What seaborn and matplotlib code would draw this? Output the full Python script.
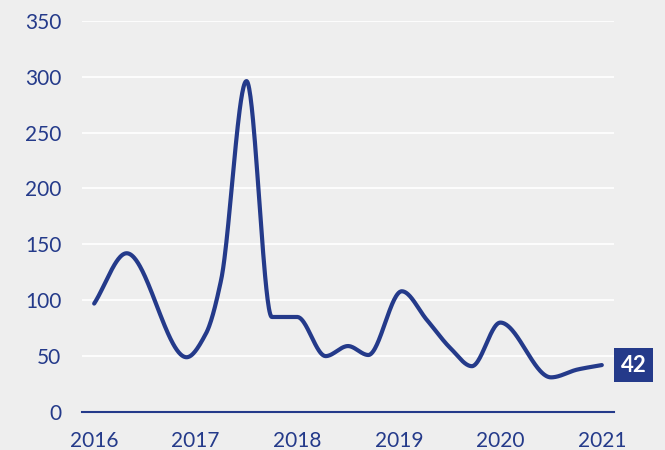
import matplotlib
matplotlib.use("Agg")
import matplotlib.pyplot as plt
import numpy as np
import pandas as pd
import seaborn as sns

# values (year position, value)
years = [2016.0, 2016.32, 2016.91, 2017.1, 2017.25, 2017.5, 2017.75, 2018.0,
         2018.28, 2018.5, 2018.7, 2019.03, 2019.28, 2019.51, 2019.72, 2020.0,
         2020.5, 2020.76, 2021.0]
values = [97, 142, 49, 70, 118, 296, 85, 85,
          50, 59, 51, 108, 82, 57, 41, 80,
          31, 38, 42]
tick_years = [2016, 2017, 2018, 2019, 2020, 2021]
y_ticks = [0, 50, 100, 150, 200, 250, 300, 350]
last_label = "42"

navy = "#243a8a"
bg = "#eeeeee"


def monotone_curve(x, y, n=800):
    # monotone cubic (Fritsch-Carlson) so the line looks like the smooth original
    x = np.asarray(x, float)
    y = np.asarray(y, float)
    h = np.diff(x)
    d = np.diff(y) / h
    m = np.zeros_like(y)
    for i in range(1, len(y) - 1):
        if d[i - 1] * d[i] > 0:
            w1 = 2 * h[i] + h[i - 1]
            w2 = h[i] + 2 * h[i - 1]
            m[i] = (w1 + w2) / (w1 / d[i - 1] + w2 / d[i])
    m[0] = d[0]
    m[-1] = d[-1]
    xs = np.linspace(x[0], x[-1], n)
    idx = np.clip(np.searchsorted(x, xs) - 1, 0, len(h) - 1)
    t = (xs - x[idx]) / h[idx]
    h00 = 2 * t**3 - 3 * t**2 + 1
    h10 = t**3 - 2 * t**2 + t
    h01 = -2 * t**3 + 3 * t**2
    h11 = t**3 - t**2
    ys = h00 * y[idx] + h10 * h[idx] * m[idx] + h01 * y[idx + 1] + h11 * h[idx] * m[idx + 1]
    return xs, ys


sns.set_theme(style="whitegrid")
plt.rcParams["font.family"] = ["Lato", "DejaVu Sans"]

xs, ys = monotone_curve(years, values)
df = pd.DataFrame({"year": xs, "value": ys})

fig = plt.figure(figsize=(6.65, 4.5), dpi=100, facecolor=bg)
ax = fig.add_axes([0.1233, 0.0844, 0.8, 0.8696])
ax.set_facecolor(bg)

sns.lineplot(data=df, x="year", y="value", color=navy, linewidth=3.0, ax=ax)

ax.set_xlim(2015.88, 2021.12)
ax.set_ylim(0, 350)
ax.set_xticks(tick_years)
ax.set_xticklabels([str(y) for y in tick_years])
ax.set_yticks(y_ticks)
ax.set_xlabel("")
ax.set_ylabel("")

ax.grid(axis="y", color="white", linewidth=1.2)
ax.grid(axis="x", visible=False)
for side in ["left", "right", "top"]:
    ax.spines[side].set_visible(False)
ax.spines["bottom"].set_color(navy)
ax.spines["bottom"].set_linewidth(1.5)
ax.spines["bottom"].set_zorder(3)

ax.tick_params(axis="y", length=0, pad=15, labelsize=15, labelcolor=navy)
ax.tick_params(axis="x", length=0, pad=14, labelsize=15, labelcolor=navy)

ax.annotate(last_label, xy=(years[-1], values[-1]), xytext=(23, 0),
            textcoords="offset points", ha="center", va="center",
            fontsize=16, fontweight="bold", color="white",
            bbox=dict(boxstyle="square,pad=0.3", fc=navy, ec="none"),
            annotation_clip=False)

fig.savefig("out.png", dpi=100, facecolor=bg)
